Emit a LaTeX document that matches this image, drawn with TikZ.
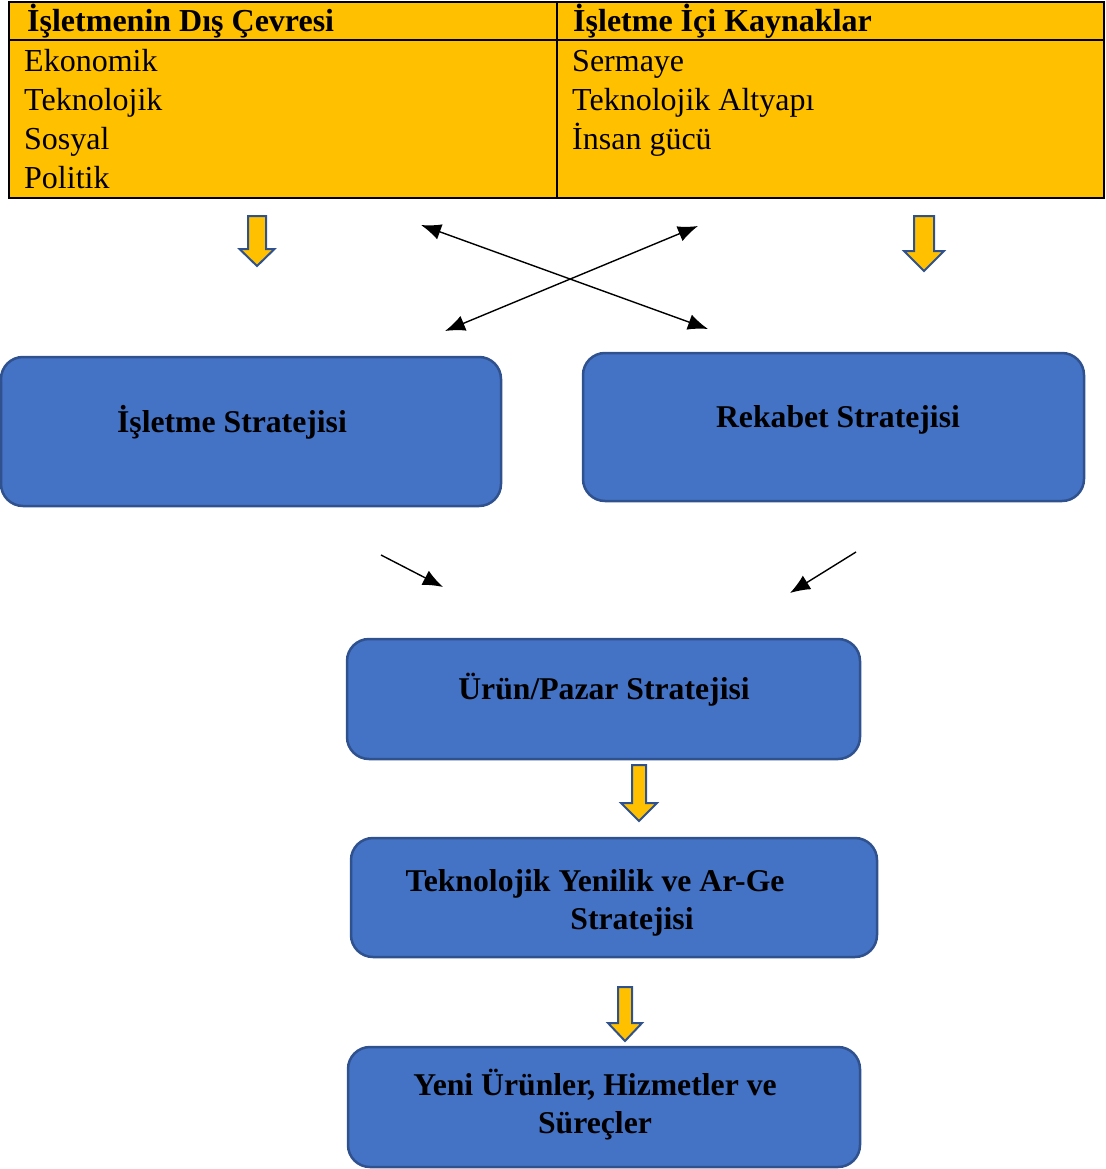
\documentclass[tikz,border=0pt]{standalone}
\usepackage{fontspec}
\setmainfont{Liberation Serif}
\usepackage{tikz}
\usetikzlibrary{positioning}
\usetikzlibrary{arrows.meta}
\definecolor{tabloSari}{HTML}{FFC000}
\definecolor{kutuMavi}{HTML}{4472C4}
\definecolor{kenarMavi}{HTML}{2F528F}
% Blokpfeil nach unten: Spitze (x,y), Laenge, halbe Schaftbreite, halbe Kopfbreite, Kopfhoehe
\newcommand{\blokok}[6]{%
  \draw[blokok] (#1-#4,#2-#3) -- (#1+#4,#2-#3) -- (#1+#4,#2-#6) -- (#1+#5,#2-#6)
    -- (#1,#2) -- (#1-#5,#2-#6) -- (#1-#4,#2-#6) -- cycle;}

\begin{document}
\begin{tikzpicture}[
x=1pt, y=-1pt,
>={Latex[length=20pt,width=16pt]},   %Voreinstellung fuer Pfeilspitzen
hucre/.style={anchor=base west, inner sep=0pt, font=\fontsize{32}{38}\selectfont},
baslik/.style={hucre, font=\fontsize{32}{38}\selectfont\bfseries},
kutu/.style={draw=kenarMavi, fill=kutuMavi, line width=2.5pt, rounded corners=22pt},
kututext/.style={align=center, inner sep=0pt, font=\fontsize{31.7}{38}\selectfont\bfseries},
blokok/.style={draw=kenarMavi, fill=tabloSari, line width=2pt, line join=miter},
ok/.style={line width=1.4pt}
]
\useasboundingbox (0,0) rectangle (1105,1169);

% Tabelle
\fill[tabloSari] (9,2) rectangle (1104,198);
\draw[line width=2.5pt] (9,2) rectangle (1104,198);
\draw[line width=2.5pt] (9,40) -- (1104,40);
\draw[line width=2.5pt] (557,2) -- (557,198);

\node[baslik] (dis) at (27,32) {İşletmenin Dış Çevresi};
\node[baslik] (ic) at (573,32) {İşletme İçi Kaynaklar};

\node[hucre] (eko) at (24,72) {Ekonomik};
\node[hucre] (tekn) at (24,111) {Teknolojik};
\node[hucre] (sos) at (24,150) {Sosyal};
\node[hucre] (pol) at (24,189) {Politik};

\node[hucre] (ser) at (572,72) {Sermaye};
\node[hucre] (alt) at (572,111) {Teknolojik Altyapı};
\node[hucre] (ins) at (572,150) {İnsan gücü};

% Blokpfeile
\blokok{257}{266}{50}{9}{17.5}{17}
\blokok{924}{271}{55}{10}{20}{20}
\blokok{639}{821}{56}{7}{18}{18}
\blokok{625}{1041}{54}{7}{17}{18}

% Kaesten
\node[kutu, minimum width=500pt, minimum height=149pt] (isl) at (251,431.5) {};
\node[kutu, minimum width=501pt, minimum height=148pt] (rek) at (833.5,427) {};
\node[kutu, minimum width=513pt, minimum height=120pt] (urun) at (603.5,699) {};
\node[kutu, minimum width=526pt, minimum height=119pt] (tek) at (614,897.5) {};
\node[kutu, minimum width=512pt, minimum height=120pt] (yeni) at (604,1107) {};

\node[kututext] (isltxt) at (232,422) {İşletme Stratejisi};
\node[kututext] (rektxt) at (838,420) {Rekabet Stratejisi};
\node[kututext] (uruntxt) at (604,690) {Ürün/Pazar Stratejisi};
\node[kututext] (tektxt) at (595,902.5) {Teknolojik Yenilik ve Ar-Ge\\\hspace*{74pt}Stratejisi};
\node[kututext] (yenitxt) at (595,1105) {Yeni Ürünler, Hizmetler ve\\Süreçler};

% Kreuzpfeile
\coordinate (xa1) at (421,225);
\coordinate (xa2) at (708,329);
\coordinate (xb1) at (445,331);
\coordinate (xb2) at (698,226);
\draw[ok, <->] (xa1) -- (xa2);
\draw[ok, <->] (xb1) -- (xb2);

% Pfeile zur Produkt/Markt-Strategie
\coordinate (sl1) at (381,555);
\coordinate (sl2) at (443,587);
\coordinate (sr1) at (856,552);
\coordinate (sr2) at (790,593);
\draw[ok, ->] (sl1) -- (sl2);
\draw[ok, ->] (sr1) -- (sr2);
\end{tikzpicture}
\end{document}
